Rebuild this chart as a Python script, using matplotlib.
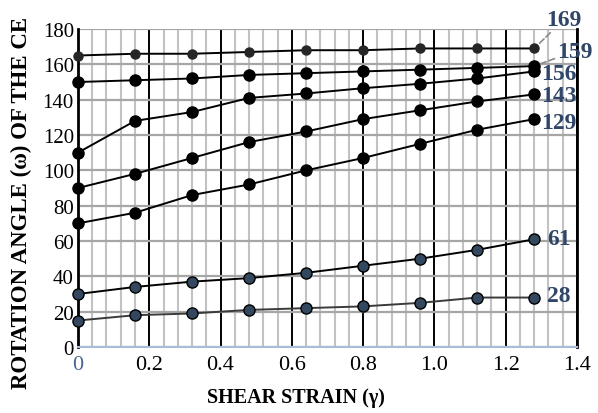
import matplotlib.pyplot as plt
from matplotlib.ticker import MultipleLocator

plt.rcParams['font.family'] = ['Liberation Serif', 'DejaVu Serif']

gamma = [0, 0.16, 0.32, 0.48, 0.64, 0.80, 0.96, 1.12, 1.28]
s169 = [165, 166, 166, 167, 168, 168, 169, 169, 169]
s159 = [150, 151, 152, 154, 155, 156, 157, 158, 159]
s156 = [110, 128, 133, 141, 143.5, 146.5, 149, 152, 156]
s143 = [90, 98, 107, 116, 122, 129, 134, 139, 143]
s129 = [70, 76, 86, 92, 100, 107, 115, 123, 129]
s61 = [30, 34, 37, 39, 42, 46, 50, 55, 61]
s28 = [15, 18, 19, 21, 22, 23, 25, 28, 28]
end_labels = ['169', '159', '156', '143', '129', '61', '28']

label_blue = '#2f4668'
dot_blue = '#33475f'

fig = plt.figure(figsize=(5.98, 4.14), dpi=100)
ax = fig.add_axes([0.1304, 0.1594, 0.8345, 0.7681])

ax.set_xlim(0, 1.4)
ax.set_ylim(0, 180)

# grid: grey minor verticals, black major verticals, grey horizontals
ax.xaxis.set_major_locator(MultipleLocator(0.2))
ax.xaxis.set_minor_locator(MultipleLocator(0.04))
ax.yaxis.set_major_locator(MultipleLocator(20))
ax.grid(which='minor', axis='x', color='#c2c2c2', lw=1.5)
ax.grid(which='major', axis='x', color='black', lw=1.4)
ax.grid(which='major', axis='y', color='#a6a6a6', lw=1.6)
ax.set_axisbelow(True)

for side in ['left', 'right']:
    ax.spines[side].set_linewidth(2)
    ax.spines[side].set_color('black')
ax.spines['top'].set_visible(False)
ax.spines['bottom'].set_color('#a9bdd8')
ax.spines['bottom'].set_linewidth(1.5)

ax.tick_params(which='both', length=0)
ax.tick_params(axis='y', labelsize=15, pad=3)
ax.tick_params(axis='x', labelsize=16, pad=6)
ax.set_xticks([0, 0.2, 0.4, 0.6, 0.8, 1.0, 1.2, 1.4])
ax.set_xticklabels(['0', '0.2', '0.4', '0.6', '0.8', '1.0', '1.2', '1.4'])
ax.get_xticklabels()[0].set_color('#4a6590')

series = [s169, s159, s156, s143, s129, s61, s28]
styles = [
    dict(color='black', marker='o', ms=6.5, mfc='#262626', mec='#262626'),
    dict(color='black', marker='o', ms=8, mfc='black', mec='black'),
    dict(color='black', marker='o', ms=8, mfc='black', mec='black'),
    dict(color='black', marker='o', ms=8, mfc='black', mec='black'),
    dict(color='black', marker='o', ms=8, mfc='black', mec='black'),
    dict(color='black', marker='o', ms=8, mfc=dot_blue, mec='black'),
    dict(color='#3a3a3a', marker='o', ms=8, mfc=dot_blue, mec='black'),
]
for ys, st in zip(series, styles):
    ax.plot(gamma, ys, lw=1.4, clip_on=False, zorder=3, **st)

# end-of-line value labels
offsets = [(12, 29), (23, 15), (7, -2), (7, -1), (7, -3), (13, 1), (13, 2)]
for ys, lab, off in zip(series, end_labels, offsets):
    arrow = None
    if lab in ('169', '159'):
        arrow = dict(arrowstyle='-', linestyle='--', color='#8a8a8a', lw=1.2,
                     shrinkA=0, shrinkB=4)
    ax.annotate(lab, xy=(gamma[-1], ys[-1]), xytext=off,
                textcoords='offset pixels', ha='left', va='center',
                fontsize=17, fontweight='bold', color=label_blue,
                arrowprops=arrow, annotation_clip=False, zorder=4)

fig.text(0.036, 0.51, 'ROTATION ANGLE (ω) OF THE CE', rotation=90,
         ha='center', va='center', fontsize=16.5, fontweight='bold')
fig.text(0.495, 0.038, 'SHEAR STRAIN (γ)', ha='center', va='center',
         fontsize=14.5, fontweight='bold')

fig.savefig('out.png', dpi=100)
